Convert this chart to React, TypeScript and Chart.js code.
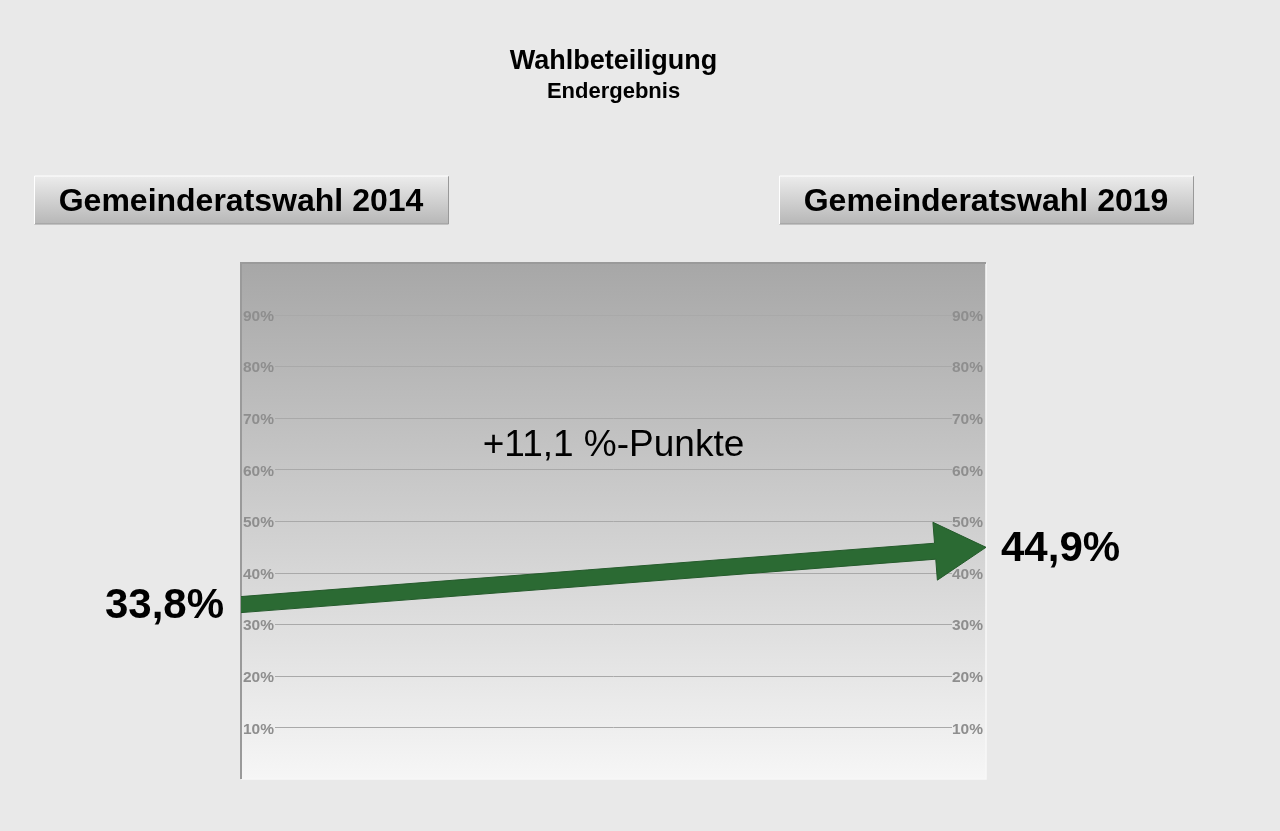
import React, { useEffect, useRef } from "react";
import { Chart, registerables } from "chart.js";

Chart.register(...registerables);

// ---- data ----
const categories = ["Gemeinderatswahl 2014", "Gemeinderatswahl 2019"];
const turnout = [33.8, 44.9];
const tickValues = [10, 20, 30, 40, 50, 60, 70, 80, 90];
const tickLabels = ["10%", "20%", "30%", "40%", "50%", "60%", "70%", "80%", "90%"];
const titleText = "Wahlbeteiligung";
const subtitleText = "Endergebnis";
const diffLabelValue = 65; // vertical position (in %) of the difference label

const FONT = "'Liberation Sans', Arial, sans-serif";
const fmt = (v: number) => v.toFixed(1).replace(".", ",");

const overlay = {
  id: "overlay",
  beforeDraw(chart: any) {
    const { ctx, chartArea: a, scales } = chart;
    ctx.save();
    ctx.fillStyle = "#e9e9e9";
    ctx.fillRect(0, 0, chart.width, chart.height);
    const g = ctx.createLinearGradient(0, a.top, 0, a.bottom);
    g.addColorStop(0, "#a7a7a7");
    g.addColorStop(1, "#f6f6f6");
    ctx.fillStyle = g;
    ctx.fillRect(a.left, a.top, a.right - a.left, a.bottom - a.top);
    // light right/bottom border
    ctx.strokeStyle = "#f8f8f8";
    ctx.lineWidth = 1.5;
    ctx.beginPath();
    ctx.moveTo(a.right, a.top);
    ctx.lineTo(a.right, a.bottom);
    ctx.lineTo(a.left, a.bottom);
    ctx.stroke();
    // dark top/left border
    ctx.strokeStyle = "#9a9a9a";
    ctx.lineWidth = 2;
    ctx.beginPath();
    ctx.moveTo(a.left, a.bottom);
    ctx.lineTo(a.left, a.top);
    ctx.lineTo(a.right, a.top);
    ctx.stroke();
    // gridlines
    const y = scales.y;
    ctx.strokeStyle = "#a9a9a9";
    ctx.lineWidth = 1;
    tickValues.forEach((v) => {
      const py = Math.round(y.getPixelForValue(v)) + 0.5;
      ctx.beginPath();
      ctx.moveTo(a.left + 34, py);
      ctx.lineTo(a.right - 34, py);
      ctx.stroke();
    });
    ctx.restore();
  },
  afterDatasetsDraw(chart: any) {
    const { ctx, chartArea: a } = chart;
    const pts = chart.getDatasetMeta(0).data;
    const p0 = { x: pts[0].x, y: pts[0].y };
    const p1 = { x: pts[1].x, y: pts[1].y };
    const dx = p1.x - p0.x;
    const dy = p1.y - p0.y;
    const len = Math.hypot(dx, dy);
    const ux = dx / len;
    const uy = dy / len;
    const nx = -uy;
    const ny = ux;
    const headL = 51;
    const headW = 29;
    const shaftW = 8;
    const bx = p1.x - ux * headL;
    const by = p1.y - uy * headL;
    ctx.save();
    ctx.beginPath();
    ctx.rect(a.left, a.top - 40, a.right - a.left + 2, a.bottom - a.top + 40);
    ctx.clip();
    ctx.fillStyle = "#2b6a33";
    ctx.strokeStyle = "#245a2b";
    ctx.lineWidth = 1;
    ctx.beginPath();
    const sx = p0.x - ux * 20;
    const sy = p0.y - uy * 20;
    ctx.moveTo(sx + nx * shaftW, sy + ny * shaftW);
    ctx.lineTo(bx + nx * shaftW, by + ny * shaftW);
    ctx.lineTo(bx + nx * headW, by + ny * headW);
    ctx.lineTo(p1.x, p1.y);
    ctx.lineTo(bx - nx * headW, by - ny * headW);
    ctx.lineTo(bx - nx * shaftW, by - ny * shaftW);
    ctx.lineTo(sx - nx * shaftW, sy - ny * shaftW);
    ctx.closePath();
    ctx.fill();
    ctx.stroke();
    ctx.restore();
  },
  afterDraw(chart: any) {
    const { ctx, chartArea: a, scales } = chart;
    const cx = (a.left + a.right) / 2;
    ctx.save();
    ctx.fillStyle = "#000";
    ctx.textAlign = "center";
    ctx.textBaseline = "alphabetic";
    ctx.font = `bold 27px ${FONT}`;
    ctx.fillText(titleText, cx, 69);
    ctx.font = `bold 22px ${FONT}`;
    ctx.fillText(subtitleText, cx, 98);

    // category buttons
    const bw = 414;
    const bh = 48;
    const btop = 176;
    categories.forEach((c, i) => {
      const x = scales.x.getPixelForValue(i);
      const left = Math.round(x - bw / 2) + 0.5;
      const g = ctx.createLinearGradient(0, btop, 0, btop + bh);
      g.addColorStop(0, "#ececec");
      g.addColorStop(1, "#b7b7b7");
      ctx.fillStyle = g;
      ctx.fillRect(left, btop, bw, bh);
      ctx.lineWidth = 1;
      ctx.strokeStyle = "#999999";
      ctx.beginPath();
      ctx.moveTo(left, btop + bh);
      ctx.lineTo(left + bw, btop + bh);
      ctx.lineTo(left + bw, btop);
      ctx.stroke();
      ctx.strokeStyle = "#ffffff";
      ctx.beginPath();
      ctx.moveTo(left, btop + bh);
      ctx.lineTo(left, btop);
      ctx.lineTo(left + bw, btop);
      ctx.stroke();
      ctx.fillStyle = "#000";
      ctx.font = `bold 32px ${FONT}`;
      ctx.textAlign = "center";
      ctx.textBaseline = "alphabetic";
      ctx.fillText(c, x, btop + 35);
    });

    // value labels
    ctx.font = `bold 42px ${FONT}`;
    ctx.textBaseline = "middle";
    ctx.fillStyle = "#000";
    const y0 = scales.y.getPixelForValue(turnout[0]);
    const y1 = scales.y.getPixelForValue(turnout[1]);
    ctx.textAlign = "right";
    ctx.fillText(fmt(turnout[0]) + "%", a.left - 17, y0 + 2);
    ctx.textAlign = "left";
    ctx.fillText(fmt(turnout[1]) + "%", a.right + 15, y1 + 2);

    // difference label
    const diff = turnout[1] - turnout[0];
    ctx.font = `37px ${FONT}`;
    ctx.textAlign = "center";
    ctx.fillText((diff >= 0 ? "+" : "") + fmt(diff) + " %-Punkte", cx, scales.y.getPixelForValue(diffLabelValue) + 2);
    ctx.restore();
  },
};

export default function App() {
  const ref = useRef<HTMLCanvasElement | null>(null);
  useEffect(() => {
    document.body.style.margin = "0";
    const canvas = ref.current!;
    const tickCb = (v: any) => {
      const i = tickValues.indexOf(Number(v));
      return i >= 0 ? tickLabels[i] : "";
    };
    const tickOpts = {
      stepSize: 10,
      mirror: true,
      padding: 2,
      labelOffset: 2,
      color: "#8e8e8e",
      font: { family: FONT, size: 15.5, weight: "bold" as const },
      callback: tickCb,
    };
    const chart = new Chart(canvas, {
      type: "line",
      data: {
        datasets: [
          {
            data: turnout.map((v, i) => ({ x: i, y: v })),
            showLine: false,
            pointRadius: 0,
            borderWidth: 0,
          },
        ],
      },
      options: {
        animation: false,
        responsive: false,
        layout: { padding: { left: 237, right: 294, top: 263, bottom: 52 } },
        plugins: { legend: { display: false }, tooltip: { enabled: false }, title: { display: false } },
        scales: {
          x: { type: "linear", min: 0, max: 1, display: false },
          y: {
            type: "linear",
            position: "left",
            min: 0,
            max: 100,
            grid: { display: false, drawTicks: false },
            border: { display: false },
            ticks: tickOpts,
          },
          y2: {
            type: "linear",
            position: "right",
            min: 0,
            max: 100,
            grid: { display: false, drawTicks: false },
            border: { display: false },
            ticks: { ...tickOpts, padding: -3 },
          },
        },
      },
      plugins: [overlay],
    });
    return () => chart.destroy();
  }, []);
  return (
    <div style={{ position: "absolute", left: 0, top: 0, width: 1280, height: 831, background: "#e9e9e9" }}>
      <canvas ref={ref} width={1280} height={831} style={{ display: "block", width: 1280, height: 831 }} />
    </div>
  );
}
